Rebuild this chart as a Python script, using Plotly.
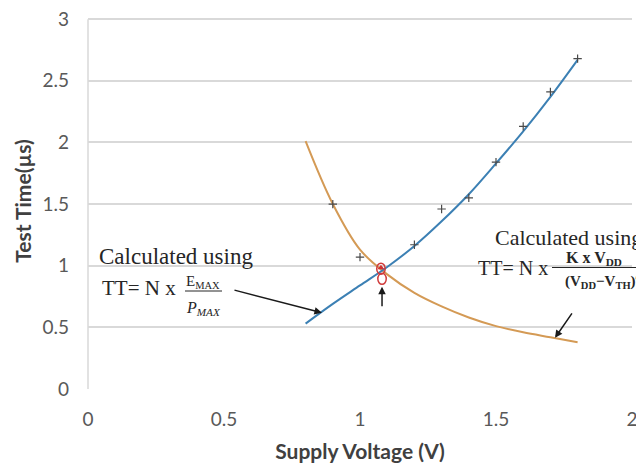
import plotly.graph_objects as go

# ---- data ----
V_fit = [0.8, 0.9, 1.0, 1.1, 1.2, 1.3, 1.4, 1.5, 1.6, 1.7, 1.8]
TT_energy = [0.53, 0.69, 0.84, 0.99, 1.16, 1.36, 1.58, 1.83, 2.09, 2.37, 2.67]
TT_alpha = [2.01, 1.50, 1.13, 0.93, 0.78, 0.67, 0.58, 0.51, 0.46, 0.42, 0.38]
V_meas = [0.9, 1.0, 1.2, 1.3, 1.4, 1.5, 1.6, 1.7, 1.8]
TT_meas = [1.50, 1.07, 1.17, 1.46, 1.55, 1.84, 2.13, 2.41, 2.68]
V_opt = [1.077]
TT_opt = [0.984]
x_ticks = [0, 0.5, 1, 1.5, 2]
y_ticks = [0, 0.5, 1, 1.5, 2, 2.5, 3]

BLUE = "#3C80B4"
ORANGE = "#D49A55"
GRID = "#D9D9D9"
SERIF = "Liberation Serif"
TXT = "#262626"

fig = go.Figure()
fig.add_trace(go.Scatter(x=V_fit, y=TT_alpha, mode="lines", line=dict(color=ORANGE, width=2, shape="spline"),
                         showlegend=False))
fig.add_trace(go.Scatter(x=V_fit, y=TT_energy, mode="lines", line=dict(color=BLUE, width=2, shape="spline"),
                         showlegend=False))
fig.add_trace(go.Scatter(x=V_meas, y=TT_meas, mode="markers",
                         marker=dict(symbol="cross-thin", size=6, line=dict(width=1.2, color="#4a4a4a")),
                         showlegend=False))
fig.add_trace(go.Scatter(x=V_opt, y=TT_opt, mode="markers",
                         marker=dict(symbol="triangle-up", size=6, color="#D03030"),
                         showlegend=False))

# red ellipses around optimum
for cx, cy in ((1.077, 0.976), (1.081, 0.894)):
    fig.add_shape(type="circle", xref="x", yref="y",
                  x0=cx - 0.0155, x1=cx + 0.0155, y0=cy - 0.045, y1=cy + 0.045,
                  line=dict(color="#D03A3A", width=1.5))

ann = []
# left formula
ann.append(dict(x=0.033, y=1.073, text="Calculated using", xanchor="left", yanchor="middle",
                font=dict(family=SERIF, size=23, color=TXT), showarrow=False))
ann.append(dict(x=0.044, y=0.82, text="TT= N x", xanchor="left", yanchor="middle",
                font=dict(family=SERIF, size=21, color=TXT), showarrow=False))
ann.append(dict(x=0.423, y=0.865, text="E<sub>MAX</sub>", xanchor="center", yanchor="middle",
                font=dict(family=SERIF, size=15, color=TXT), showarrow=False))
ann.append(dict(x=0.423, y=0.655, text="<i>P<sub>MAX</sub></i>", xanchor="center", yanchor="middle",
                font=dict(family=SERIF, size=16, color=TXT), showarrow=False))
# right formula
ann.append(dict(x=1.489, y=1.225, text="Calculated using", xanchor="left", yanchor="middle",
                font=dict(family=SERIF, size=22, color=TXT), showarrow=False))
ann.append(dict(x=1.425, y=0.98, text="TT= N x", xanchor="left", yanchor="middle",
                font=dict(family=SERIF, size=20, color=TXT), showarrow=False))
ann.append(dict(x=1.862, y=1.06, text="<b>K x V<sub>DD</sub></b>", xanchor="center", yanchor="middle",
                font=dict(family=SERIF, size=16, color=TXT), showarrow=False))
ann.append(dict(x=1.895, y=0.88, text="<b>(V<sub>DD</sub>−V<sub>TH</sub>)</b><sup><i>α</i></sup>",
                xanchor="center", yanchor="middle",
                font=dict(family=SERIF, size=15, color=TXT), showarrow=False))
# arrows
ann.append(dict(x=0.860, y=0.618, ax=0.533, ay=0.805, axref="x", ayref="y", xref="x", yref="y",
                text="", showarrow=True, arrowhead=2, arrowsize=1, arrowwidth=1.5, arrowcolor="#1a1a1a"))
ann.append(dict(x=1.717, y=0.415, ax=1.783, ay=0.626, axref="x", ayref="y", xref="x", yref="y",
                text="", showarrow=True, arrowhead=2, arrowsize=1, arrowwidth=1.5, arrowcolor="#1a1a1a"))
ann.append(dict(x=1.081, y=0.829, ax=1.081, ay=0.659, axref="x", ayref="y", xref="x", yref="y",
                text="", showarrow=True, arrowhead=2, arrowsize=1, arrowwidth=1.5, arrowcolor="#1a1a1a"))

# fraction bars (paper coords so they may run past the plot edge)
PW, PH = 544, 376
fig.add_shape(type="line", xref="paper", yref="paper", x0=(185 - 88) / PW, x1=(222 - 88) / PW,
              y0=(389 - 291) / PH, y1=(389 - 291) / PH, line=dict(color=TXT, width=1))
fig.add_shape(type="line", xref="paper", yref="paper", x0=(552 - 88) / PW, x1=(648 - 88) / PW,
              y0=(389 - 267.5) / PH, y1=(389 - 267.5) / PH, line=dict(color=TXT, width=1))

# the page body has an 8px margin, so the figure is sized to fit the window
fig.update_layout(
    width=636, height=455,
    margin=dict(l=80, r=12, t=5, b=74),
    plot_bgcolor="white", paper_bgcolor="white",
    annotations=ann,
    font=dict(family="Lato", color="#595959"),
    xaxis=dict(range=[0, 2], tickvals=x_ticks, ticktext=[f"{v:g}" for v in x_ticks],
               showgrid=False, zeroline=False, showline=False, automargin=False,
               ticklabeloverflow="allow",
               tickfont=dict(size=19, color="#595959"), ticklabelstandoff=17,
               title=dict(text="<b>Supply Voltage (V)</b>", font=dict(size=21, color="#404040"), standoff=15)),
    yaxis=dict(range=[0, 3.05], tickvals=y_ticks, ticktext=[f"{v:g}" for v in y_ticks],
               showgrid=True, gridcolor=GRID, gridwidth=1.5, zeroline=False,
               showline=False, automargin=False,
               ticklabeloverflow="allow",
               tickfont=dict(size=19, color="#595959"), ticklabelstandoff=18,
               title=dict(text="<b>Test Time(µs)</b>", font=dict(size=21, color="#404040"), standoff=5)),
)
# left axis line from 0 to 3 only
fig.add_shape(type="line", xref="paper", yref="y", x0=0, x1=0, y0=y_ticks[0], y1=y_ticks[-1],
              line=dict(color=GRID, width=1.5), layer="below")

fig.write_html("out.html")
